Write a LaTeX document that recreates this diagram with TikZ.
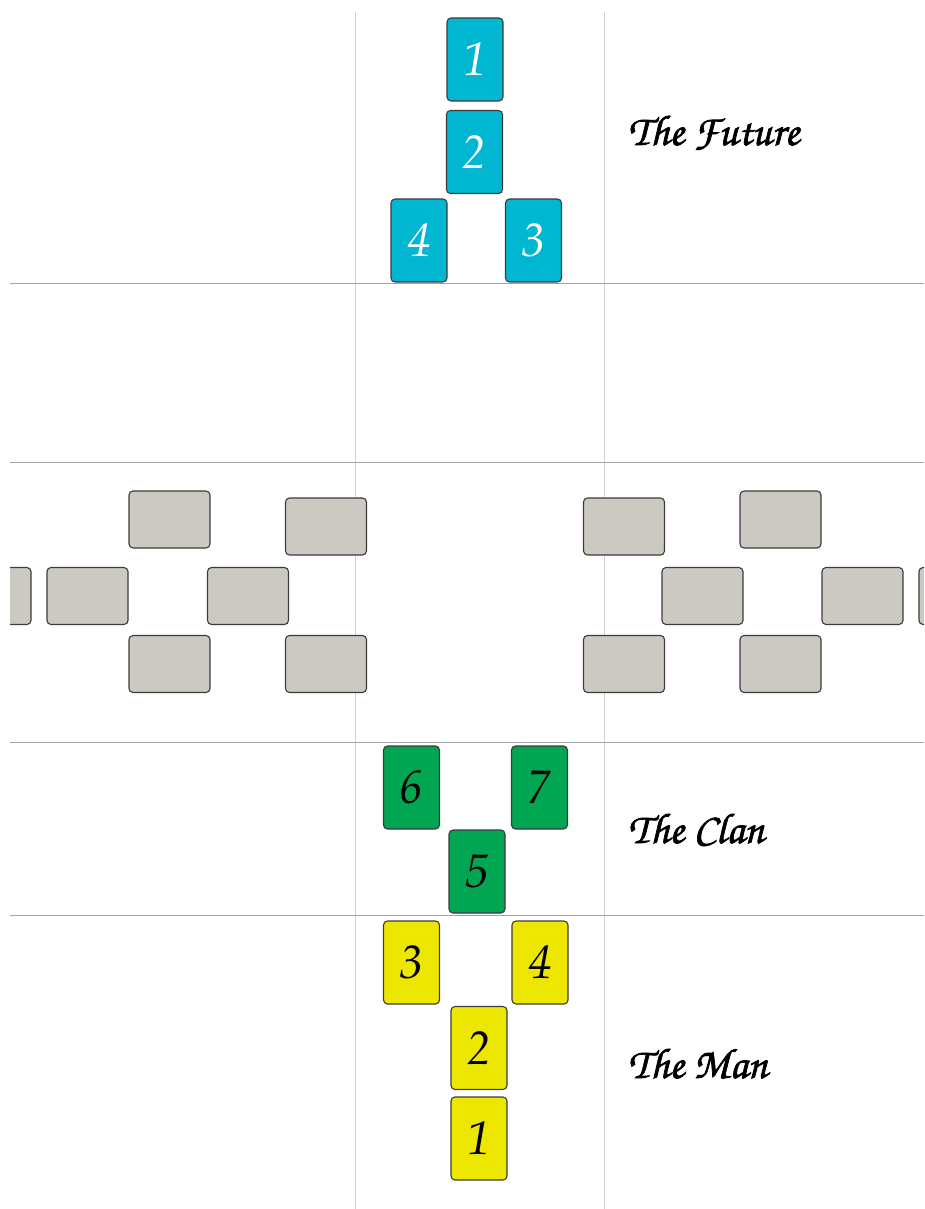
\documentclass[tikz,border=0pt]{standalone}
\usepackage[T1]{fontenc}
\definecolor{cardblue}{HTML}{00B6D1}
\definecolor{cardgreen}{HTML}{00A651}
\definecolor{cardyellow}{HTML}{EDE600}
\definecolor{cardgray}{HTML}{CCC8C2}
\definecolor{cardedge}{HTML}{3C3C3C}
\definecolor{vline}{HTML}{CFCFCF}
\definecolor{hline}{HTML}{A4A4A4}
\newcommand{\numfont}{\usefont{T1}{ppl}{m}{it}\fontsize{47}{50}\selectfont}
\newcommand{\labfont}{\usefont{T1}{pzc}{mb}{it}\fontsize{43}{46}\selectfont}
\newcommand{\heavytext}[1]{\special{pdf:literal direct 2 Tr 0.7 w}#1\special{pdf:literal direct 0 Tr}}
\tikzset{
  card/.style={draw=cardedge, line width=1.1pt, rounded corners=4pt,
    minimum width=56pt, minimum height=83pt, inner sep=0pt, font=\numfont},
  bluecard/.style={card, fill=cardblue, text=white},
  greencard/.style={card, fill=cardgreen, text=black},
  yellowcard/.style={card, fill=cardyellow, text=black},
  graycard/.style={draw=cardedge, line width=1.1pt, rounded corners=4pt,
    minimum width=81pt, minimum height=57pt, inner sep=0pt, fill=cardgray},
  label/.style={anchor=base west, inner sep=0pt, font=\labfont},
  vrule/.style={draw=vline, line width=0.9pt},
  hrule/.style={draw=hline, line width=0.9pt}
}
\begin{document}
\begin{tikzpicture}[x=1pt,y=-1pt]
\useasboundingbox (0,0) rectangle (924,1209);
\begin{scope}
\clip (10,12) rectangle (924,1209);
% grid lines
\coordinate (v1t) at (355,12); \coordinate (v1b) at (355,1209);
\coordinate (v2t) at (604,12); \coordinate (v2b) at (604,1209);
\draw[vrule] (v1t) -- (v1b);
\draw[vrule] (v2t) -- (v2b);
\foreach \yy/\nm in {283/h1,462/h2,742/h3,915/h4}{
  \coordinate (\nm l) at (10,\yy); \coordinate (\nm r) at (924,\yy);
  \draw[hrule] (\nm l) -- (\nm r);
}
% The Future
\node[bluecard] (f1) at (475,59.5) {1};
\node[bluecard] (f2) at (474.5,152) {2};
\node[bluecard] (f4) at (419,240.5) {4};
\node[bluecard] (f3) at (533.5,240.5) {3};
% gray cards
\node[graycard] (g1) at (169.5,519.5) {};
\node[graycard] (g2) at (326,526.5) {};
\node[graycard] (g3) at (-9.5,596) {};
\node[graycard] (g4) at (87.5,596) {};
\node[graycard] (g5) at (248,596) {};
\node[graycard] (g6) at (169.5,664) {};
\node[graycard] (g7) at (326,664) {};
\node[graycard] (g8) at (624,526.5) {};
\node[graycard] (g9) at (780.5,519.5) {};
\node[graycard] (g10) at (702.5,596) {};
\node[graycard] (g11) at (862.5,596) {};
\node[graycard] (g12) at (959.5,596) {};
\node[graycard] (g13) at (624,664) {};
\node[graycard] (g14) at (780.5,664) {};
% The Clan
\node[greencard] (c6) at (411.5,787.5) {6};
\node[greencard] (c7) at (539.5,787.5) {7};
\node[greencard] (c5) at (477,871.5) {5};
% The Man
\node[yellowcard] (m3) at (411.5,962.5) {3};
\node[yellowcard] (m4) at (540,962.5) {4};
\node[yellowcard] (m2) at (479,1048) {2};
\node[yellowcard] (m1) at (479,1138.5) {1};
\end{scope}
% labels
\node[label] (lf) at (628,145) {\heavytext{The Future}};
\node[label] (lc) at (628,843) {\heavytext{The Clan}};
\node[label] (lm) at (628,1078) {\heavytext{The Man}};
\end{tikzpicture}
\end{document}
